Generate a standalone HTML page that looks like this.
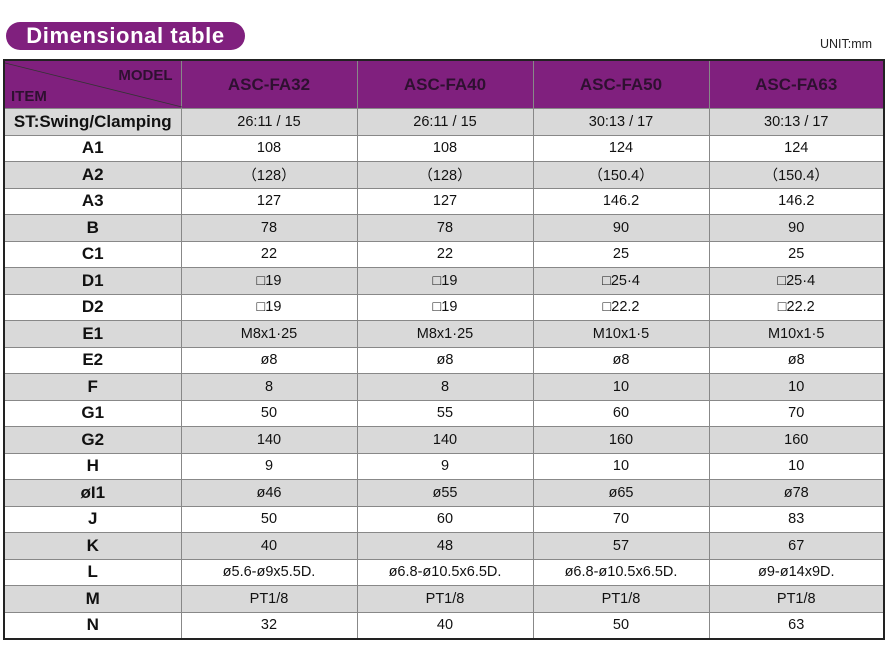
<!DOCTYPE html>
<html><head><style>
body{margin:0;width:895px;height:649px;background:#fff;position:relative;font-family:"Liberation Sans",Arial,sans-serif;overflow:hidden}
.pill{position:absolute;left:6px;top:22px;width:239px;height:28px;background:#80207e;border-radius:14px;color:#fff;font-weight:bold;font-size:22px;letter-spacing:0.6px;line-height:28px;text-align:center}
.unit{position:absolute;left:820px;top:37px;font-size:12.5px;color:#222}
table{position:absolute;left:3px;top:59px;border-collapse:collapse;border:2px solid #222;table-layout:fixed}
td{border:1px solid #888;text-align:center;font-size:14.5px;color:#111;height:25.5px;padding:0}
td.h{font-weight:bold;font-size:17px}
tr.g td{background:#d9d9d9}
tr.hd td{background:#80207e;height:47px;font-weight:bold;font-size:17px;color:#2e1030;border-color:#888}
</style></head><body>
<div class="pill">Dimensional table</div>
<div class="unit">UNIT:mm</div>
<table>
<colgroup><col style="width:177px"><col style="width:176px"><col style="width:176px"><col style="width:176px"><col style="width:175px"></colgroup>
<tr class="hd"><td style="position:relative;padding:0"><svg width="177" height="48" style="position:absolute;left:0;top:0"><line x1="0" y1="2" x2="177" y2="46" stroke="#333" stroke-width="0.8"/></svg><span style="position:absolute;right:8px;top:6px;font-size:15px">MODEL</span><span style="position:absolute;left:6px;bottom:3px;font-size:15px">ITEM</span></td><td>ASC-FA32</td><td>ASC-FA40</td><td>ASC-FA50</td><td>ASC-FA63</td></tr>
<tr class="g"><td class="h">ST:Swing/Clamping</td><td>26:11 / 15</td><td>26:11 / 15</td><td>30:13 / 17</td><td>30:13 / 17</td></tr>
<tr><td class="h">A1</td><td>108</td><td>108</td><td>124</td><td>124</td></tr>
<tr class="g"><td class="h">A2</td><td>（128）</td><td>（128）</td><td>（150.4）</td><td>（150.4）</td></tr>
<tr><td class="h">A3</td><td>127</td><td>127</td><td>146.2</td><td>146.2</td></tr>
<tr class="g"><td class="h">B</td><td>78</td><td>78</td><td>90</td><td>90</td></tr>
<tr><td class="h">C1</td><td>22</td><td>22</td><td>25</td><td>25</td></tr>
<tr class="g"><td class="h">D1</td><td>□19</td><td>□19</td><td>□25·4</td><td>□25·4</td></tr>
<tr><td class="h">D2</td><td>□19</td><td>□19</td><td>□22.2</td><td>□22.2</td></tr>
<tr class="g"><td class="h">E1</td><td>M8x1·25</td><td>M8x1·25</td><td>M10x1·5</td><td>M10x1·5</td></tr>
<tr><td class="h">E2</td><td>ø8</td><td>ø8</td><td>ø8</td><td>ø8</td></tr>
<tr class="g"><td class="h">F</td><td>8</td><td>8</td><td>10</td><td>10</td></tr>
<tr><td class="h">G1</td><td>50</td><td>55</td><td>60</td><td>70</td></tr>
<tr class="g"><td class="h">G2</td><td>140</td><td>140</td><td>160</td><td>160</td></tr>
<tr><td class="h">H</td><td>9</td><td>9</td><td>10</td><td>10</td></tr>
<tr class="g"><td class="h">øI1</td><td>ø46</td><td>ø55</td><td>ø65</td><td>ø78</td></tr>
<tr><td class="h">J</td><td>50</td><td>60</td><td>70</td><td>83</td></tr>
<tr class="g"><td class="h">K</td><td>40</td><td>48</td><td>57</td><td>67</td></tr>
<tr><td class="h">L</td><td>ø5.6-ø9x5.5D.</td><td>ø6.8-ø10.5x6.5D.</td><td>ø6.8-ø10.5x6.5D.</td><td>ø9-ø14x9D.</td></tr>
<tr class="g"><td class="h">M</td><td>PT1/8</td><td>PT1/8</td><td>PT1/8</td><td>PT1/8</td></tr>
<tr><td class="h">N</td><td>32</td><td>40</td><td>50</td><td>63</td></tr>
</table>
</body></html>
